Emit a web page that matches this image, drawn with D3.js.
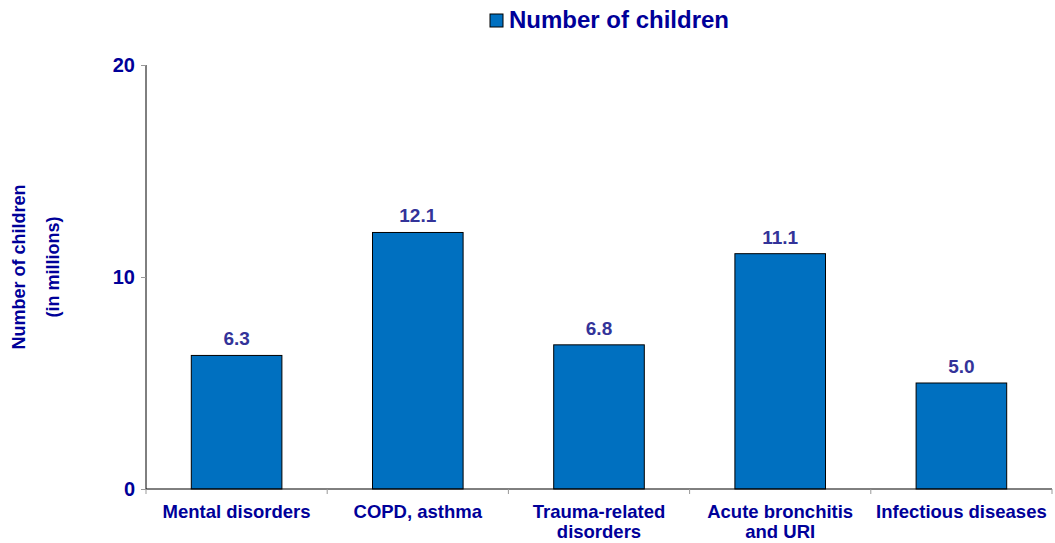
<!DOCTYPE html>
<html>
<head>
<meta charset="utf-8">
<script src="https://cdn.jsdelivr.net/npm/d3@7"></script>
<style>
  body { margin: 0; background: #fff; }
  svg text { font-family: "Liberation Sans", Arial, sans-serif; font-weight: bold; }
</style>
</head>
<body>
<svg id="chart" width="1055" height="543"></svg>
<script>
// data
var categories = [["Mental disorders"], ["COPD, asthma"], ["Trauma-related", "disorders"], ["Acute bronchitis", "and URI"], ["Infectious diseases"]];
var values = [6.3, 12.1, 6.8, 11.1, 5.0];
var yTicks = [0, 10, 20];
var seriesName = "Number of children";
var yTitle = ["Number of children", "(in millions)"];

var svg = d3.select("#chart");
var plotLeft = 146, plotRight = 1052, plotTop = 65, plotBottom = 489;
var textColor = "#000099", labelColor = "#333399", barColor = "#0070C0";

var x = d3.scaleBand()
    .domain(d3.range(values.length))
    .range([plotLeft, plotRight])
    .paddingInner(0.5)
    .paddingOuter(0.25);
var y = d3.scaleLinear().domain([0, 20]).range([plotBottom, plotTop]);

// bars
svg.append("g").selectAll("rect")
    .data(values)
    .enter().append("rect")
    .attr("x", function(d, i) { return x(i); })
    .attr("y", function(d) { return y(d); })
    .attr("width", x.bandwidth())
    .attr("height", function(d) { return plotBottom - y(d); })
    .attr("fill", barColor)
    .attr("stroke", "#000")
    .attr("stroke-width", 1);

// value labels
svg.append("g").selectAll("text")
    .data(values)
    .enter().append("text")
    .attr("x", function(d, i) { return x(i) + x.bandwidth() / 2; })
    .attr("y", function(d) { return y(d) - 10; })
    .attr("text-anchor", "middle")
    .attr("font-size", 19)
    .attr("fill", labelColor)
    .text(function(d) { return d.toFixed(1); });

// y axis
var yAxis = svg.append("g")
    .attr("transform", "translate(" + plotLeft + ",0)")
    .call(d3.axisLeft(y).tickValues(yTicks).tickSize(5).tickPadding(6));
yAxis.select(".domain").attr("stroke", "#000").attr("d", "M0," + plotTop + "V" + plotBottom);
yAxis.selectAll(".tick line").attr("stroke", "#999");
yAxis.selectAll(".tick text")
    .attr("font-size", 20)
    .attr("font-family", "Liberation Sans, Arial, sans-serif")
    .attr("font-weight", "bold")
    .attr("fill", textColor);

// x axis with ticks at band edges
var edges = d3.range(values.length + 1).map(function(i) { return plotLeft + i * x.step(); });
svg.append("line")
    .attr("x1", plotLeft).attr("x2", plotRight)
    .attr("y1", plotBottom).attr("y2", plotBottom)
    .attr("stroke", "#000");
svg.append("g").selectAll("line")
    .data(edges)
    .enter().append("line")
    .attr("x1", function(d) { return d; })
    .attr("x2", function(d) { return d; })
    .attr("y1", plotBottom).attr("y2", plotBottom + 5)
    .attr("stroke", "#999");

var cat = svg.append("g").selectAll("text")
    .data(categories)
    .enter().append("text")
    .attr("x", function(d, i) { return x(i) + x.bandwidth() / 2; })
    .attr("y", 518)
    .attr("text-anchor", "middle")
    .attr("font-size", 18.5)
    .attr("fill", textColor);
cat.selectAll("tspan")
    .data(function(d) { return d; })
    .enter().append("tspan")
    .attr("x", function() { return this.parentNode.getAttribute("x"); })
    .attr("dy", function(d, i) { return i ? 20 : 0; })
    .text(function(d) { return d; });

// y title
var yt = svg.append("text")
    .attr("transform", "translate(25,267) rotate(-90)")
    .attr("text-anchor", "middle")
    .attr("font-size", 18)
    .attr("fill", textColor);
yt.selectAll("tspan")
    .data(yTitle)
    .enter().append("tspan")
    .attr("x", 0)
    .attr("dy", function(d, i) { return i ? 34 : 0; })
    .text(function(d) { return d; });

// legend
var legend = svg.append("g").attr("transform", "translate(490,14)");
legend.append("rect")
    .attr("width", 13).attr("height", 13)
    .attr("fill", barColor).attr("stroke", "#000");
legend.append("text")
    .attr("x", 19).attr("y", 14)
    .attr("font-size", 24)
    .attr("fill", textColor)
    .text(seriesName);
</script>
</body>
</html>
